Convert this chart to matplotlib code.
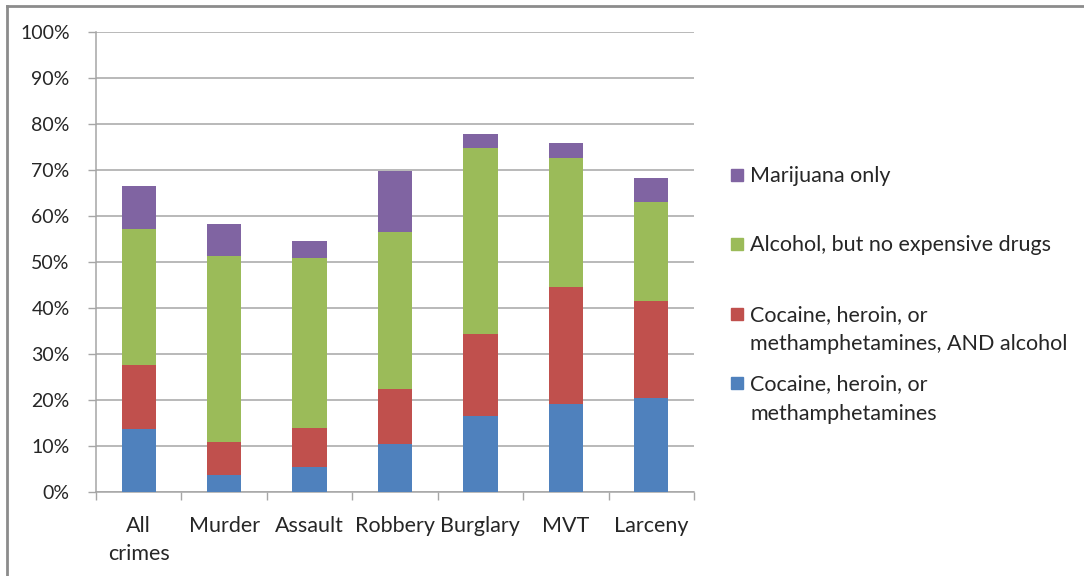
import matplotlib.pyplot as plt
from matplotlib.patches import Rectangle
from matplotlib.lines import Line2D
from matplotlib.ticker import FixedLocator, PercentFormatter

plt.rcParams['font.family'] = ['Lato', 'DejaVu Sans']

crimes = ['All\ncrimes', 'Murder', 'Assault', 'Robbery', 'Burglary', 'MVT', 'Larceny']
hard_drugs = [13.8, 3.8, 5.4, 10.4, 16.6, 19.1, 20.5]
hard_drugs_alcohol = [13.8, 7.0, 8.6, 12.0, 17.7, 25.4, 21.0]
alcohol_only = [29.5, 40.6, 36.8, 34.2, 40.4, 28.0, 21.6]
marijuana_only = [9.4, 6.8, 3.8, 13.1, 3.1, 3.4, 5.1]

series = [
    ('Cocaine, heroin, or\nmethamphetamines', hard_drugs, '#4F81BD'),
    ('Cocaine, heroin, or\nmethamphetamines, AND alcohol', hard_drugs_alcohol, '#C0504D'),
    ('Alcohol, but no expensive drugs', alcohol_only, '#9BBB59'),
    ('Marijuana only', marijuana_only, '#8064A2'),
]

W, H = 1084, 576
text_color = '#262626'
grid_color = '#a6a6a6'
label_fs = 15.5

fig = plt.figure(figsize=(W / 100, H / 100), dpi=100)
ax = fig.add_axes([96 / W, 1 - 492 / H, (694 - 96) / W, (492 - 32) / H])

x = list(range(len(crimes)))
bottom = [0.0] * len(crimes)
for name, vals, color in series:
    ax.bar(x, vals, width=0.4, bottom=bottom, color=color, zorder=3)
    bottom = [b + v for b, v in zip(bottom, vals)]

ax.set_xlim(-0.5, len(crimes) - 0.5)
ax.set_ylim(0, 100)
ax.yaxis.set_major_locator(FixedLocator(range(0, 101, 10)))
ax.yaxis.set_major_formatter(PercentFormatter(decimals=0))
ax.grid(axis='y', color=grid_color, lw=1.1, zorder=0)
ax.set_axisbelow(True)

ax.set_xticks(x)
ax.set_xticklabels(crimes, linespacing=1.5)
ax.xaxis.set_minor_locator(FixedLocator([i - 0.5 for i in range(len(crimes) + 1)]))
ax.tick_params(axis='x', which='major', length=0, pad=17, labelsize=label_fs,
               labelcolor=text_color)
ax.tick_params(axis='x', which='minor', length=6, width=1, color=grid_color, direction='out')
ax.tick_params(axis='y', length=6, width=1, color=grid_color, pad=13, labelsize=14,
               labelcolor=text_color)

for side in ['top', 'right']:
    ax.spines[side].set_visible(False)
for side in ['left', 'bottom']:
    ax.spines[side].set_color(grid_color)
    ax.spines[side].set_linewidth(1.1)

# legend drawn by hand so the entries sit at even steps, first line beside the swatch
for i, (name, vals, color) in enumerate(reversed(series)):
    yc = 175 + i * 69.3
    fig.patches.append(Rectangle((731 / W, 1 - (yc + 6) / H), 12 / W, 12 / H,
                                 transform=fig.transFigure, color=color, figure=fig))
    fig.text(750 / W, 1 - (yc - 9) / H, name, fontsize=label_fs, color=text_color,
             va='top', ha='left', linespacing=1.6)

# chart frame
fig.add_artist(Line2D([7 / W, 7 / W], [0, 1 - 6 / H], color='#8c8c8c', lw=2,
                      transform=fig.transFigure))
fig.add_artist(Line2D([7 / W, 1], [1 - 6 / H, 1 - 6 / H], color='#8c8c8c', lw=2,
                      transform=fig.transFigure))

fig.savefig('out.png', dpi=100)
